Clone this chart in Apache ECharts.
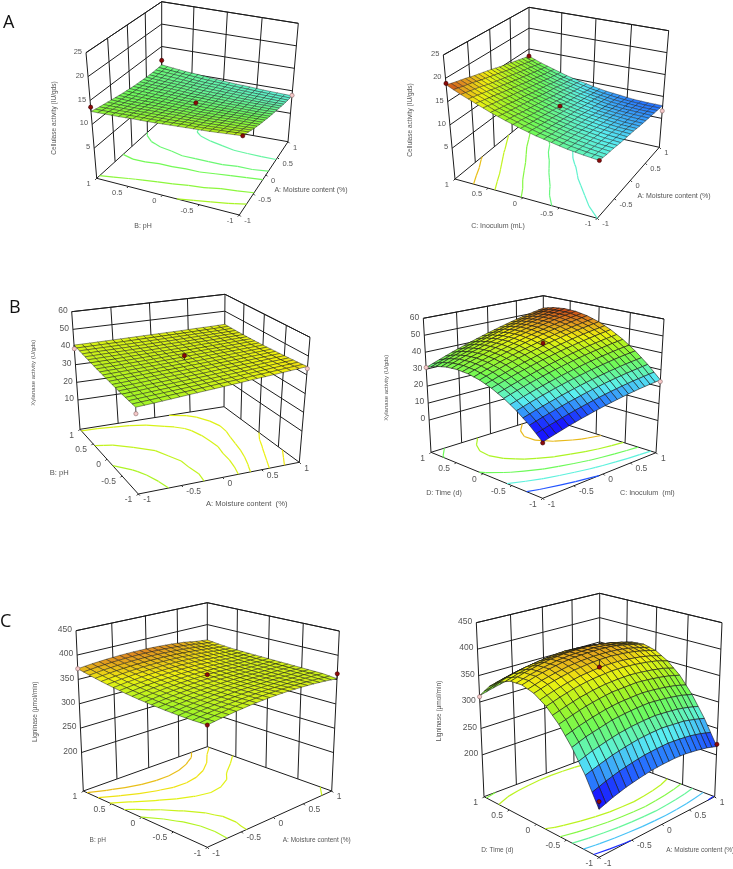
<!DOCTYPE html>
<html><head><meta charset="utf-8">
<script src="https://cdn.jsdelivr.net/npm/echarts@6/dist/echarts.min.js"></script>
<style>html,body{margin:0;padding:0;background:#fff}#c{width:733px;height:869px}</style>
</head><body><div id="c"></div>
<script>
// ---------- values (rows: v=-1..1, columns: u=-1..1, step 0.2) ----------
const cellulasePH = [
[14.6,13.8,13.0,12.3,11.7,11.1,10.6,10.1,9.6,9.2,8.9],
[14.3,13.5,12.8,12.2,11.6,11.0,10.5,10.1,9.6,9.3,9.0],
[14.0,13.3,12.7,12.1,11.5,11.0,10.5,10.1,9.7,9.4,9.1],
[13.8,13.1,12.5,11.9,11.4,10.9,10.5,10.1,9.8,9.5,9.3],
[13.6,13.0,12.4,11.8,11.3,10.9,10.5,10.2,9.9,9.6,9.4],
[13.4,12.8,12.3,11.8,11.3,10.9,10.6,10.2,10.0,9.8,9.6],
[13.2,12.7,12.2,11.7,11.3,10.9,10.6,10.3,10.1,9.9,9.8],
[13.1,12.6,12.1,11.7,11.3,11.0,10.7,10.5,10.3,10.1,10.1],
[12.9,12.5,12.0,11.6,11.3,11.0,10.8,10.6,10.4,10.4,10.3],
[12.8,12.4,12.0,11.6,11.3,11.1,10.9,10.7,10.6,10.6,10.6],
[12.7,12.3,12.0,11.7,11.4,11.2,11.0,10.9,10.8,10.8,10.9]];
const cellulaseInoc = [
[10.2,9.9,9.7,9.4,9.2,9.0,8.7,8.5,8.3,8.1,7.9],
[10.5,10.2,9.9,9.6,9.4,9.1,8.8,8.6,8.4,8.1,7.9],
[10.9,10.6,10.3,10.0,9.7,9.4,9.1,8.8,8.5,8.3,8.0],
[11.5,11.1,10.8,10.4,10.1,9.8,9.4,9.1,8.8,8.5,8.3],
[12.1,11.7,11.4,11.0,10.6,10.3,9.9,9.6,9.3,8.9,8.6],
[12.9,12.5,12.1,11.7,11.3,10.9,10.5,10.2,9.8,9.4,9.1],
[13.8,13.4,12.9,12.5,12.1,11.7,11.2,10.9,10.5,10.1,9.7],
[14.8,14.3,13.9,13.4,13.0,12.5,12.1,11.7,11.2,10.8,10.4],
[16.0,15.5,15.0,14.5,14.0,13.5,13.0,12.6,12.1,11.7,11.3],
[17.2,16.7,16.2,15.6,15.1,14.6,14.1,13.6,13.2,12.7,12.2],
[18.6,18.0,17.5,16.9,16.4,15.9,15.3,14.8,14.3,13.8,13.3]];
const xylanasePH = [
[36.2,36.9,37.7,38.5,39.3,40.1,40.9,41.8,42.6,43.5,44.4],
[36.4,37.1,37.8,38.5,39.2,40.0,40.7,41.5,42.3,43.1,43.9],
[36.7,37.3,38.0,38.6,39.3,39.9,40.6,41.3,42.0,42.8,43.5],
[37.1,37.6,38.2,38.8,39.3,39.9,40.6,41.2,41.8,42.5,43.2],
[37.5,38.0,38.5,39.0,39.5,40.0,40.5,41.1,41.7,42.3,42.9],
[38.0,38.4,38.8,39.2,39.6,40.1,40.6,41.1,41.6,42.1,42.6],
[38.5,38.8,39.2,39.5,39.9,40.3,40.7,41.1,41.5,42.0,42.4],
[39.1,39.3,39.6,39.9,40.2,40.5,40.8,41.2,41.5,41.9,42.3],
[39.7,39.9,40.1,40.3,40.5,40.8,41.0,41.3,41.6,41.9,42.2],
[40.4,40.5,40.6,40.7,40.9,41.1,41.3,41.5,41.7,41.9,42.2],
[41.1,41.1,41.2,41.3,41.4,41.5,41.6,41.7,41.9,42.0,42.2]];
const xylanaseTime = [
[11.0,13.0,14.9,16.6,18.1,19.5,20.7,21.8,22.7,23.4,24.0],
[17.5,19.6,21.5,23.3,24.9,26.4,27.7,28.8,29.8,30.6,31.3],
[23.0,25.2,27.2,29.1,30.8,32.3,33.7,34.9,36.0,36.9,37.6],
[27.5,29.8,31.9,33.8,35.6,37.2,38.7,40.0,41.1,42.1,42.9],
[31.0,33.3,35.5,37.5,39.4,41.1,42.6,44.0,45.2,46.3,47.2],
[33.5,35.9,38.2,40.3,42.2,44.0,45.6,47.1,48.4,49.5,50.5],
[35.0,37.5,39.8,42.0,44.0,45.9,47.6,49.1,50.5,51.7,52.8],
[35.5,38.1,40.5,42.8,44.9,46.8,48.6,50.2,51.7,53.0,54.1],
[35.0,37.7,40.2,42.5,44.7,46.7,48.6,50.3,51.8,53.2,54.4],
[33.5,36.2,38.8,41.2,43.5,45.6,47.5,49.3,50.9,52.4,53.7],
[31.0,33.8,36.5,39.0,41.3,43.5,45.5,47.4,49.1,50.6,52.0]];
const ligninasePH = [
[344.0,348.4,352.0,354.8,356.8,358.0,358.4,358.0,356.8,354.8,352.0],
[343.8,348.1,351.5,354.2,356.0,357.1,357.3,357.2,356.8,356.2,355.0],
[344.3,348.4,351.7,354.2,355.9,356.8,356.9,357.0,356.8,356.6,355.6],
[345.5,349.4,352.6,354.9,356.5,357.2,357.2,357.0,356.8,356.8,356.2],
[347.3,351.1,354.1,356.3,357.7,358.3,358.1,357.5,357.0,357.0,356.8],
[349.8,353.4,356.3,358.3,359.6,360.0,359.7,358.8,357.6,357.3,357.4],
[352.9,356.4,359.1,361.0,362.1,362.4,361.9,360.6,358.8,358.2,358.0],
[356.7,360.0,362.6,364.3,365.3,365.4,364.8,363.3,361.1,359.5,358.8],
[361.1,364.3,366.7,368.3,369.1,369.1,368.3,366.7,364.3,361.5,359.7],
[366.2,369.3,371.5,373.0,373.6,373.5,372.5,370.8,368.2,364.4,362.0],
[372.0,374.9,377.0,378.3,378.8,378.5,377.4,375.5,372.8,368.1,365.0]];
const ligninaseTime = [
[202,211,218,223,227,229,230,229,226,222,216],
[249,257,264,269,273,275,276,274,272,267,261],
[287,296,302,308,311,313,314,312,309,305,299],
[318,326,333,338,342,343,344,342,339,335,329],
[341,349,356,361,364,366,366,364,361,357,350],
[356,364,370,375,378,380,380,378,375,370,364],
[363,371,377,382,385,386,386,385,381,376,370],
[362,370,376,381,384,385,385,383,379,374,368],
[353,361,367,371,374,376,375,373,370,365,358],
[337,344,350,354,357,358,358,356,352,347,340],
[312,319,325,329,332,333,332,330,326,321,314]];

// contour levels
const levelsCellulasePH = [10.0,10.85,11.5,12.55,13.6];
const levelsCellulaseInoc = [10.2,11.5,13,14.8,16.7];
const levelsXylanasePH = [37.5,39.2,40.9,41.6,42.6,43.5];
const levelsXylanaseTime = [19,27,34,41,49];
const levelsLigninasePH = [350,354.5,359.5,364.5,370];
const levelsLigninaseTime = [220,255,288,318,345];

// design points: [u, v, response, 1 dark / 0 pink]
const pointsCellulasePH = [[-1,1,13.6,1],[1,1,11.9,1],[-1,-1,14.6,1],[0,0,10.9,1],[1,-1,9.0,0]];
const pointsCellulaseInoc = [[-1,1,18.9,1],[1,1,13.3,1],[-1,-1,10.2,1],[0,0,10.9,1],[1,-1,6.7,0]];
const pointsXylanasePH = [[-1,1,39,0],[1,-1,43.3,0],[-1,-1,33,0],[0,0,42.5,1]];
const pointsXylanaseTime = [[-1,1,31,0],[1,-1,23,0],[-1,-1,10.5,1],[0,0,45.5,1]];
const pointsLigninasePH = [[-1,1,372,0],[1,-1,362,1],[-1,-1,344,1],[0,0,360,1]];
const pointsLigninaseTime = [[-1,1,310,0],[1,-1,220,1],[-1,-1,215,1],[0,0,366,1]];

const codedTicks = [-1,-0.5,0,0.5,1];
const zTicksCellulase = [5,10,15,20,25];
const zTicksXylanasePH = [10,20,30,40,50,60];
const zTicksXylanaseTime = [0,10,20,30,40,50,60];
const zTicksLigninase = [200,250,300,350,400,450];
const panelLetters = ['A','B','C'];

// ---------- view geometry of each box (pixel corners F,R,K,L on floor and top) ----------
const panels = [
 {table:cellulasePH,levels:levelsCellulasePH,points:pointsCellulasePH,zTicks:zTicksCellulase,z0:-1.3,z1:25,cMin:5,cMax:19,mesh:0.4,
  floor:[[239.3,215],[288,141.7],[161.7,119.5],[96.7,178.3]],top:[[245,84],[298.3,23.3],[161.7,1.7],[86,52.7]],
  zTitle:['Cellulase activity (IU/gds)',54.3,118],vTitle:['B: pH',143,226],uTitle:['A: Moisture content (%)',311,190],fs:7.5,ts:7,zs:6.5},
 {table:cellulaseInoc,levels:levelsCellulaseInoc,points:pointsCellulaseInoc,zTicks:zTicksCellulase,z0:-1.6,z1:25,cMin:6.5,cMax:19,mesh:0.4,
  floor:[[597.3,218.3],[659.3,147.3],[529,118.3],[455,179]],top:[[602,88],[668.7,30.7],[529,7.3],[443.3,55]],
  zTitle:['Cellulase activity (IU/gds)',410.7,120],vTitle:['C: Inoculum (mL)',498,225.7],uTitle:['A: Moisture content (%)',674,196],fs:7.5,ts:7,zs:6.5},
 {table:xylanasePH,levels:levelsXylanasePH,points:pointsXylanasePH,zTicks:zTicksXylanasePH,z0:-6.6,z1:60,cMin:10,cMax:54,mesh:0.45,
  floor:[[138.3,494],[299.3,462.3],[224,406.7],[80,429.3]],top:[[134.3,359],[310,337.3],[225,294.3],[71.7,311.7]],
  zTitle:['Xylanase activity (U/gds)',33.3,372.7],vTitle:['B: pH',59.3,472.7],uTitle:['A: Moisture content  (%)',246.7,504.3],fs:8.5,ts:7.6,zs:6},
 {table:xylanaseTime,levels:levelsXylanaseTime,points:pointsXylanaseTime,zTicks:zTicksXylanaseTime,z0:-19,z1:60,cMin:16,cMax:56,mesh:0.6,
  floor:[[542.7,498.3],[656,452.7],[543.3,417.3],[431,452.3]],top:[[542.7,350],[664,319],[543.3,295.7],[423.3,318.3]],
  zTitle:['Xylanase activity (U/gds)',386.7,387.7],vTitle:['D: Time (d)',444,493.3],uTitle:['C: Inoculum  (ml)',647.3,493.3],fs:8.5,ts:7.2,zs:6},
 {table:ligninasePH,levels:levelsLigninasePH,points:pointsLigninasePH,zTicks:zTicksLigninase,z0:121,z1:450,cMin:280,cMax:390,mesh:0.45,
  floor:[[207.3,847.3],[331.7,791],[207.3,746.7],[83.3,791]],top:[[207.3,667],[339.3,631],[207.3,602.7],[76,630.7]],
  zTitle:['Ligninase (µmol/min)',35,711.7],vTitle:['B: pH',97.7,840.7],uTitle:['A: Moisture content (%)',316.7,840.7],fs:8.5,ts:6.5,zs:6.5},
 {table:ligninaseTime,levels:levelsLigninaseTime,points:pointsLigninaseTime,zTicks:zTicksLigninase,z0:121,z1:450,cMin:215,cMax:415,mesh:0.6,
  floor:[[599,857.3],[714.7,796.7],[599.7,753.3],[484,796.7]],top:[[599,662.3],[722,622.7],[599.7,593.3],[476.3,622.7]],
  zTitle:['Ligninase (µmol/min)',439,711],vTitle:['D: Time (d)',497.3,850],uTitle:['A: Moisture content (%)',700.3,850],fs:8.5,ts:6.5,zs:6.5}
];
const letterPos = [[7,25],[13,310],[4,624]];

// ---------- helpers ----------
const ramp = [[0,[24,24,255]],[0.12,[40,120,255]],[0.25,[90,240,240]],[0.45,[110,250,90]],[0.6,[160,245,40]],[0.75,[240,240,16]],[0.88,[224,144,32]],[1,[192,32,16]]];
function colorOf(p,z){
  let t=Math.max(0,Math.min(1,(z-p.cMin)/(p.cMax-p.cMin)));
  for(let i=1;i<ramp.length;i++){ if(t<=ramp[i][0]){
    const a=ramp[i-1],b=ramp[i],f=(t-a[0])/(b[0]-a[0]);
    return 'rgb('+a[1].map((c,k)=>Math.round(c+(b[1][k]-c)*f)).join(',')+')';
  }}
  return 'rgb(192,32,16)';
}
// projective map of the unit square onto a quad [p00,p10,p11,p01]
function homography(q){
  const [x0,y0]=q[0],[x1,y1]=q[1],[x2,y2]=q[2],[x3,y3]=q[3];
  const dx1=x1-x2,dx2=x3-x2,sx=x0-x1+x2-x3,dy1=y1-y2,dy2=y3-y2,sy=y0-y1+y2-y3;
  const den=dx1*dy2-dx2*dy1,g=(sx*dy2-dx2*sy)/den,h=(dx1*sy-sx*dy1)/den;
  const a=x1-x0+g*x1,b=x3-x0+h*x3,d=y1-y0+g*y1,e=y3-y0+h*y3;
  return (s,t)=>{const w=g*s+h*t+1;return [(a*s+b*t+x0)/w,(d*s+e*t+y0)/w];};
}
panels.forEach(p=>{p.hf=homography(p.floor);p.ht=homography(p.top);});
function project(p,u,v,z){
  const s=(u+1)/2,t=(v+1)/2,f=p.hf(s,t),g=p.ht(s,t),w=(z-p.z0)/(p.z1-p.z0);
  return [f[0]+(g[0]-f[0])*w,f[1]+(g[1]-f[1])*w];
}
const lineStyle={stroke:'#1c1c1c',lineWidth:1,fill:null};
function seg(api,a,b,style){
  const A=api.coord(a),B=api.coord(b);
  return {type:'line',shape:{x1:A[0],y1:A[1],x2:B[0],y2:B[1]},style:style||lineStyle,silent:true};
}
function txt(api,pos,dx,dy,text,align,size,color){
  const P=api.coord(pos);
  return {type:'text',x:P[0]+dx,y:P[1]+dy,silent:true,style:{text:String(text),align:align,verticalAlign:'middle',font:size+'px "Liberation Sans", Arial, sans-serif',fill:color||'#555'}};
}
// box: walls, floor edges, z lines, ticks, labels
function boxRender(p){
  return function(params,api){
    const ch=[];
    const P=(u,v,z)=>project(p,u,v,z);
    const inner=[-0.5,0,0.5];
    [[[-1,-1],[1,-1]],[[1,-1],[1,1]],[[1,1],[-1,1]],[[-1,1],[-1,-1]]].forEach(e=>{
      ch.push(seg(api,P(e[0][0],e[0][1],p.z0),P(e[1][0],e[1][1],p.z0)));
    });
    [[-1,1],[1,1],[1,-1]].forEach(c=>ch.push(seg(api,P(c[0],c[1],p.z0),P(c[0],c[1],p.z1))));
    inner.forEach(t=>{
      ch.push(seg(api,P(t,1,p.z0),P(t,1,p.z1)));
      ch.push(seg(api,P(1,t,p.z0),P(1,t,p.z1)));
    });
    p.zTicks.concat([p.z1]).forEach(z=>{
      ch.push(seg(api,P(-1,1,z),P(1,1,z)));
      ch.push(seg(api,P(1,1,z),P(1,-1,z)));
    });
    p.zTicks.forEach(z=>{ch.push(txt(api,P(-1,1,z),-4,-1,z,'right',p.fs));});
    codedTicks.forEach(t=>{
      const a=P(-1,t,p.z0),b=P(t,-1,p.z0);
      ch.push(seg(api,a,[a[0]-1.5,a[1]+1.5]));
      ch.push(seg(api,b,[b[0]+1.5,b[1]+1.5]));
      ch.push(txt(api,a,-6,6,t,'right',p.fs));
      ch.push(txt(api,b,5,6,t,'left',p.fs));
    });
    return {type:'group',children:ch};
  };
}
function contourRender(p){
  const T=p.table,n=T.length-1,co=k=>-1+2*k/n;
  return function(params,api){
    const lv=api.value(0),ch=[],style={stroke:colorOf(p,lv),lineWidth:1.2,fill:null};
    const cross=(x1,y1,a,x2,y2,b)=>{const f=(lv-a)/(b-a);return [x1+(x2-x1)*f,y1+(y2-y1)*f];};
    for(let j=0;j<n;j++)for(let i=0;i<n;i++){
      const a=T[j][i],b=T[j][i+1],c=T[j+1][i+1],d=T[j+1][i],pts=[];
      const u0=co(i),u1=co(i+1),v0=co(j),v1=co(j+1);
      if((a<lv)!==(b<lv))pts.push(cross(u0,v0,a,u1,v0,b));
      if((b<lv)!==(c<lv))pts.push(cross(u1,v0,b,u1,v1,c));
      if((d<lv)!==(c<lv))pts.push(cross(u0,v1,d,u1,v1,c));
      if((a<lv)!==(d<lv))pts.push(cross(u0,v0,a,u0,v1,d));
      for(let k=0;k+1<pts.length;k+=2){
        ch.push(seg(api,project(p,pts[k][0],pts[k][1],p.z0),project(p,pts[k+1][0],pts[k+1][1],p.z0),style));
      }
    }
    return {type:'group',children:ch};
  };
}
// surface: one item per table cell, its projected quad ruled in half both ways
function surfaceRender(p){
  const T=p.table,n=T.length-1,co=k=>-1+2*k/n;
  return function(params,api){
    const i=api.value(0),j=api.value(1);
    const z=[T[j][i],T[j][i+1],T[j+1][i+1],T[j+1][i]];
    const q=[api.coord(project(p,co(i),co(j),z[0])),api.coord(project(p,co(i+1),co(j),z[1])),
             api.coord(project(p,co(i+1),co(j+1),z[2])),api.coord(project(p,co(i),co(j+1),z[3]))];
    const at=(s,t)=>[0,1].map(k=>q[0][k]*(1-s)*(1-t)+q[1][k]*s*(1-t)+q[2][k]*s*t+q[3][k]*(1-s)*t);
    const zt=(s,t)=>z[0]*(1-s)*(1-t)+z[1]*s*(1-t)+z[2]*s*t+z[3]*(1-s)*t;
    const ch=[];
    [[0.5,0.5],[0,0.5],[0.5,0],[0,0]].forEach(o=>{
      const s=o[0],t=o[1];
      ch.push({type:'polygon',silent:true,shape:{points:[at(s,t),at(s+.5,t),at(s+.5,t+.5),at(s,t+.5)]},
        style:{fill:colorOf(p,zt(s+.25,t+.25)),stroke:'#141414',lineWidth:p.mesh}});
    });
    return {type:'group',children:ch};
  };
}
function pointRender(p){
  const T=p.table,n=T.length-1;
  return function(params,api){
    const u=api.value(0),v=api.value(1),z=api.value(2),dark=api.value(3);
    const c=api.coord(project(p,u,v,z));
    const sz=T[Math.round((v+1)/2*n)][Math.round((u+1)/2*n)];
    const stem=seg(api,project(p,u,v,z),project(p,u,v,sz),{stroke:'#1c1c1c',lineWidth:0.8,fill:null});
    return {type:'group',children:[stem,{type:'circle',silent:true,shape:{cx:c[0],cy:c[1],r:2.1},style:{fill:dark?'#8b0a0a':'#f6c8c8',stroke:dark?'#3a0000':'#8a6a6a',lineWidth:0.6}}]};
  };
}

const series=[];
const base={type:'custom',coordinateSystem:'cartesian2d',silent:true,animation:false,clip:false};
panels.forEach(p=>{
  series.push(Object.assign({},base,{renderItem:boxRender(p),data:[[0,0]]}));
  series.push(Object.assign({},base,{renderItem:contourRender(p),data:p.levels.map(l=>[l,0]),encode:{x:1,y:1}}));
  const cells=[];const n=p.table.length-1;
  for(let j=n-1;j>=0;j--)for(let i=n-1;i>=0;i--)cells.push([i,j]);
  series.push(Object.assign({},base,{renderItem:surfaceRender(p),data:cells}));
  series.push(Object.assign({},base,{renderItem:pointRender(p),data:p.points,encode:{x:0,y:1}}));
});
const graphic=[];
panelLetters.forEach((l,i)=>graphic.push({type:'text',left:letterPos[i][0]-4,top:letterPos[i][1]-11,silent:true,style:{text:l,font:'18px "Open Sans", sans-serif',fill:'#111'}}));
panels.forEach(p=>{
  const mk=(a,rot,size)=>({type:'text',x:a[1],y:a[2],rotation:rot,silent:true,style:{text:a[0],align:'center',verticalAlign:'middle',font:size+'px "Liberation Sans", Arial, sans-serif',fill:'#555'}});
  graphic.push(mk(p.zTitle,Math.PI/2,p.zs),mk(p.vTitle,0,p.ts),mk(p.uTitle,0,p.ts));
});
const chart=echarts.init(document.getElementById('c'),null,{renderer:'canvas'});
chart.setOption({
  animation:false,
  grid:{left:0,right:0,top:0,bottom:0},
  xAxis:{type:'value',min:0,max:733,show:false},
  yAxis:{type:'value',min:0,max:869,inverse:true,show:false},
  graphic:graphic,
  series:series
});
</script></body></html>
